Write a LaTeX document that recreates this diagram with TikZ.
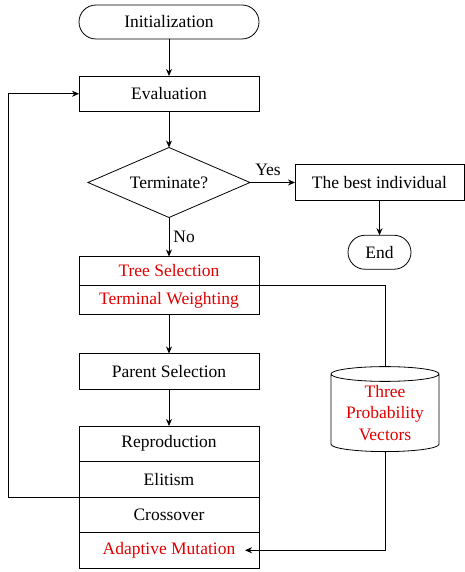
\documentclass[tikz,border=0pt]{standalone}
\usepackage{fontspec}
\setmainfont{Liberation Serif}
\usetikzlibrary{arrows.meta,positioning,calc,shapes.geometric}
\definecolor{hlred}{RGB}{225,0,0}

\begin{document}
\begin{tikzpicture}[
      >={Stealth[length=7pt,width=6pt]}, node distance=37pt, line width=0.8pt,
      font=\fontsize{17.5}{21.5}\selectfont,
      blk/.style={draw, minimum width=180pt, minimum height=35.5pt, inner sep=0pt, outer sep=0pt},
      sub/.style={blk, minimum height=29pt},
      pill/.style={draw, rounded corners=17pt, minimum height=34pt, inner sep=0pt, outer sep=0pt},
      dec/.style={draw, diamond, aspect=2.3, minimum width=162pt, minimum height=70pt, inner sep=0pt, outer sep=0pt},
      store/.style={draw, cylinder, shape border rotate=90, aspect=0.19, minimum width=108pt, minimum height=85pt, align=center, text=hlred, inner sep=0pt, outer sep=0pt},
      lbl/.style={inner sep=6pt}]
    \useasboundingbox (0,0) rectangle (464pt,-572pt);
    \node[pill, minimum width=180pt] (init) at (169pt,-22pt) {Initialization};
    \node[blk, below=of init] (eval) {Evaluation};
    \node[dec, below=36pt of eval] (check) {Terminate?};
    \node[blk, right=45pt of check, minimum width=169pt] (best) {The best individual};
    \node[pill, below=35pt of best, minimum width=63pt] (fin) {End};
    \node[sub, below=39pt of check, text=hlred] (tree) {Tree Selection};
    \node[sub, below=0pt of tree, text=hlred] (weight) {Terminal Weighting};
    \node[blk, below=39pt of weight] (parent) {Parent Selection};
    \node[blk, below=of parent] (repro) {Reproduction};
    \node[blk, below=0pt of repro] (elit) {Elitism};
    \node[blk, below=0pt of elit] (cross) {Crossover};
    \node[blk, below=0pt of cross, text=hlred] (mut) {Adaptive Mutation};
    \node[store] (vec) at ($(tree.south east)+(126pt,-127.5pt)$) {Three\\Probability\\Vectors};
    \draw[->] (init) -- (eval);
    \draw[->] (eval) -- (check);
    \draw[->] (check) -- node[lbl, above, pos=0.4]{Yes} (best);
    \draw[->] (best) -- (fin);
    \draw[->] (check) -- node[lbl, right, inner sep=4pt]{No} (tree);
    \draw[->] (weight) -- (parent);
    \draw[->] (parent) -- (repro);
    \draw (tree.south east) -| (vec.north);
    \draw[->] (vec.south) |- ([xshift=-14pt]mut.east);
    \draw[->] (elit.south west) -- ++(-71pt,0) |- (eval.west);
  \end{tikzpicture}
\end{document}
